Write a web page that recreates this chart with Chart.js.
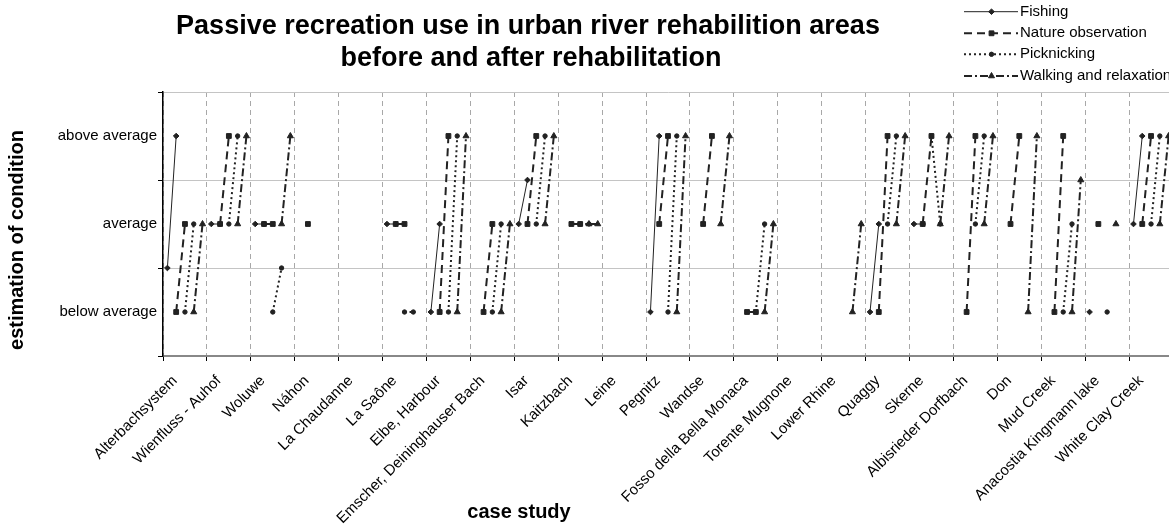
<!DOCTYPE html>
<html lang="en">
<head>
    <meta charset="UTF-8">
    <title>Passive recreation use</title>
    <script src="https://cdn.jsdelivr.net/npm/chart.js"></script>
    <style>
        html, body {
            margin: 0;
            padding: 0;
            overflow: hidden;
            background: #fff;
        }
        #wrap {
            width: 1180px;
            height: 527px;
        }
    </style>
</head>
<body>
    <div id="wrap">
        <canvas id="myChart" width="1180" height="527"></canvas>
    </div>

    <script>
        // Case studies (x axis)
        const categories = [
            'Alterbachsystem', 'Wienfluss - Auhof', 'Woluwe', 'Náhon', 'La Chaudanne',
            'La Saône', 'Elbe, Harbour', 'Emscher, Deininghauser Bach', 'Isar', 'Kaitzbach',
            'Leine', 'Pegnitz', 'Wandse', 'Fosso della Bella Monaca', 'Torente Mugnone',
            'Lower Rhine', 'Quaggy', 'Skerne', 'Albisrieder Dorfbach', 'Don',
            'Mud Creek', 'Anacostia Kingmann lake', 'White Clay Creek'
        ];

        // y levels: 0.5 = below average, 1.5 = average, 2.5 = above average
        const levels = ['below average', 'average', 'above average'];

        const seriesNames = ['Fishing', 'Nature observation', 'Picknicking', 'Walking and relaxation'];

        // before / after rehabilitation, one value per case study
        const fishingBefore = [1, 1.5, 1.5, null, null, 1.5, 0.5, null, 1.5, null, null, 0.5, null, null, null, null, 0.5, 1.5, null, null, null, 0.5, 1.5];
        const fishingAfter  = [2.5, 1.5, 1.5, null, null, 1.5, 1.5, null, 2, null, null, 2.5, null, null, null, null, 1.5, 1.5, null, null, null, null, 2.5];

        const natureBefore = [0.5, 1.5, 1.5, 1.5, null, 1.5, 0.5, 0.5, 1.5, 1.5, null, 1.5, 1.5, 0.5, null, null, 0.5, 1.5, 0.5, 1.5, 0.5, 1.5, 1.5];
        const natureAfter  = [1.5, 2.5, 1.5, null, null, 1.5, 2.5, 1.5, 2.5, 1.5, null, 2.5, 2.5, 0.5, null, null, 2.5, 2.5, 2.5, 2.5, 2.5, null, 2.5];

        const picnicBefore = [0.5, 1.5, 0.5, null, null, 0.5, 0.5, 0.5, 1.5, 1.5, null, 0.5, null, 0.5, null, null, 1.5, 2.5, 1.5, null, 0.5, 0.5, 1.5];
        const picnicAfter  = [1.5, 2.5, 1, null, null, 0.5, 2.5, 1.5, 2.5, 1.5, null, 2.5, null, 1.5, null, null, 2.5, 1.5, 2.5, null, 1.5, null, 2.5];

        const walkingBefore = [0.5, 1.5, 1.5, null, null, null, 0.5, 0.5, 1.5, 1.5, null, 0.5, 1.5, 0.5, null, 0.5, 1.5, 1.5, 1.5, 0.5, 0.5, 1.5, 1.5];
        const walkingAfter  = [1.5, 2.5, 2.5, null, null, null, 2.5, 1.5, 2.5, 1.5, null, 2.5, 2.5, 1.5, null, 1.5, 2.5, 2.5, 2.5, 2.5, 2, null, 2.5];

        const FONT = "'Liberation Sans', Arial, sans-serif";
        const INK = '#222';
        const SLOTS = 5; // each case study is split into 5 sub-positions

        Chart.defaults.font.family = FONT;

        // before at sub-position "slot", after at the next one, then a gap
        function pairPoints(before, after, slot) {
            const pts = [];
            categories.forEach((c, i) => {
                const x0 = i + (slot + 0.5) / SLOTS;
                const x1 = i + (slot + 1.5) / SLOTS;
                pts.push({ x: x0, y: before[i] });
                pts.push({ x: x1, y: after[i] });
                pts.push({ x: x1 + 0.05, y: null });
            });
            return pts;
        }

        const styles = [
            { dash: [], width: 1, point: 'rectRot', r: 2.8 },
            { dash: [8, 5], width: 2, point: 'rect', r: 3.4 },
            { dash: [2, 3], width: 2, point: 'circle', r: 2.2 },
            { dash: [8, 3, 2, 3], width: 2, point: 'triangle', r: 3.5 }
        ];

        const seriesData = [
            [fishingBefore, fishingAfter],
            [natureBefore, natureAfter],
            [picnicBefore, picnicAfter],
            [walkingBefore, walkingAfter]
        ];

        const datasets = seriesNames.map((name, s) => ({
            label: name,
            data: pairPoints(seriesData[s][0], seriesData[s][1], s),
            xAxisID: 'x',
            yAxisID: 'y',
            order: 3 - s,
            borderColor: INK,
            borderWidth: styles[s].width,
            borderDash: styles[s].dash,
            pointStyle: styles[s].point,
            pointRadius: styles[s].r,
            pointHoverRadius: styles[s].r,
            pointBackgroundColor: INK,
            pointBorderColor: INK,
            pointBorderWidth: 1,
            spanGaps: false,
            tension: 0,
            fill: false
        }));

        // Title, axis titles and legend drawn on the canvas
        const decorPlugin = {
            id: 'decor',
            afterDraw(chart) {
                const ctx = chart.ctx;
                ctx.save();
                ctx.fillStyle = '#000';
                ctx.textAlign = 'center';
                ctx.textBaseline = 'alphabetic';
                ctx.font = 'bold 27px ' + FONT;
                ctx.fillText('Passive recreation use in urban river rehabilition areas', 528, 34);
                ctx.fillText('before and after rehabilitation', 531, 65.5);

                ctx.font = 'bold 20px ' + FONT;
                ctx.textBaseline = 'middle';
                ctx.fillText('case study', 519, 512);

                ctx.save();
                ctx.translate(17, 240);
                ctx.rotate(-Math.PI / 2);
                ctx.fillText('estimation of condition', 0, 0);
                ctx.restore();

                // legend
                const lx = 964, len = 54, tx = 1020;
                const rows = [11.7, 33.3, 54.3, 76];
                ctx.font = '15px ' + FONT;
                ctx.textAlign = 'left';
                seriesNames.forEach((name, s) => {
                    const y = rows[s];
                    ctx.strokeStyle = INK;
                    ctx.lineWidth = styles[s].width;
                    ctx.setLineDash(styles[s].dash);
                    ctx.beginPath();
                    ctx.moveTo(lx, y);
                    ctx.lineTo(lx + len, y);
                    ctx.stroke();
                    ctx.setLineDash([]);
                    ctx.fillStyle = INK;
                    ctx.lineWidth = 1;
                    Chart.helpers.drawPoint(ctx, {
                        pointStyle: styles[s].point,
                        radius: styles[s].r,
                        rotation: 0,
                        borderWidth: 1
                    }, lx + len / 2 + 0.5, y);
                    ctx.fillStyle = '#000';
                    ctx.fillText(name, tx, y);
                });
                ctx.restore();
            }
        };

        new Chart(document.getElementById('myChart'), {
            type: 'line',
            data: { datasets: datasets },
            options: {
                responsive: false,
                animation: false,
                events: [],
                layout: { padding: { left: 0, top: 92, right: 7, bottom: 0 } },
                plugins: {
                    legend: { display: false },
                    title: { display: false },
                    tooltip: { enabled: false }
                },
                scales: {
                    x: {
                        type: 'linear',
                        display: false,
                        min: 0,
                        max: categories.length
                    },
                    xCat: {
                        type: 'category',
                        position: 'bottom',
                        labels: categories,
                        offset: true,
                        afterFit: (scale) => { scale.height = 171; },
                        grid: {
                            offset: true,
                            color: '#a8a8a8',
                            lineWidth: 1,
                            tickColor: '#000',
                            tickLength: 5,
                            tickBorderDash: []
                        },
                        border: { color: '#888', width: 2, dash: [5, 4] },
                        ticks: {
                            autoSkip: false,
                            minRotation: 45,
                            maxRotation: 45,
                            color: '#000',
                            padding: 11,
                            labelOffset: -10,
                            font: { size: 15 }
                        }
                    },
                    y: {
                        min: 0,
                        max: 3,
                        afterFit: (scale) => { scale.width = 163; },
                        grid: {
                            color: (c) => (c.tick && c.tick.value % 1 === 0 && c.tick.value > 0) ? '#c4c4c4' : 'transparent',
                            tickColor: (c) => (c.tick && c.tick.value % 1 === 0) ? '#000' : 'transparent',
                            tickLength: 5
                        },
                        border: { color: '#000', width: 1.5 },
                        ticks: {
                            stepSize: 0.5,
                            autoSkip: false,
                            color: '#000',
                            padding: 1,
                            font: { size: 15 },
                            callback: (v) => (v % 1 === 0.5) ? levels[Math.floor(v)] : ''
                        }
                    }
                }
            },
            plugins: [decorPlugin]
        });
    </script>
</body>
</html>
